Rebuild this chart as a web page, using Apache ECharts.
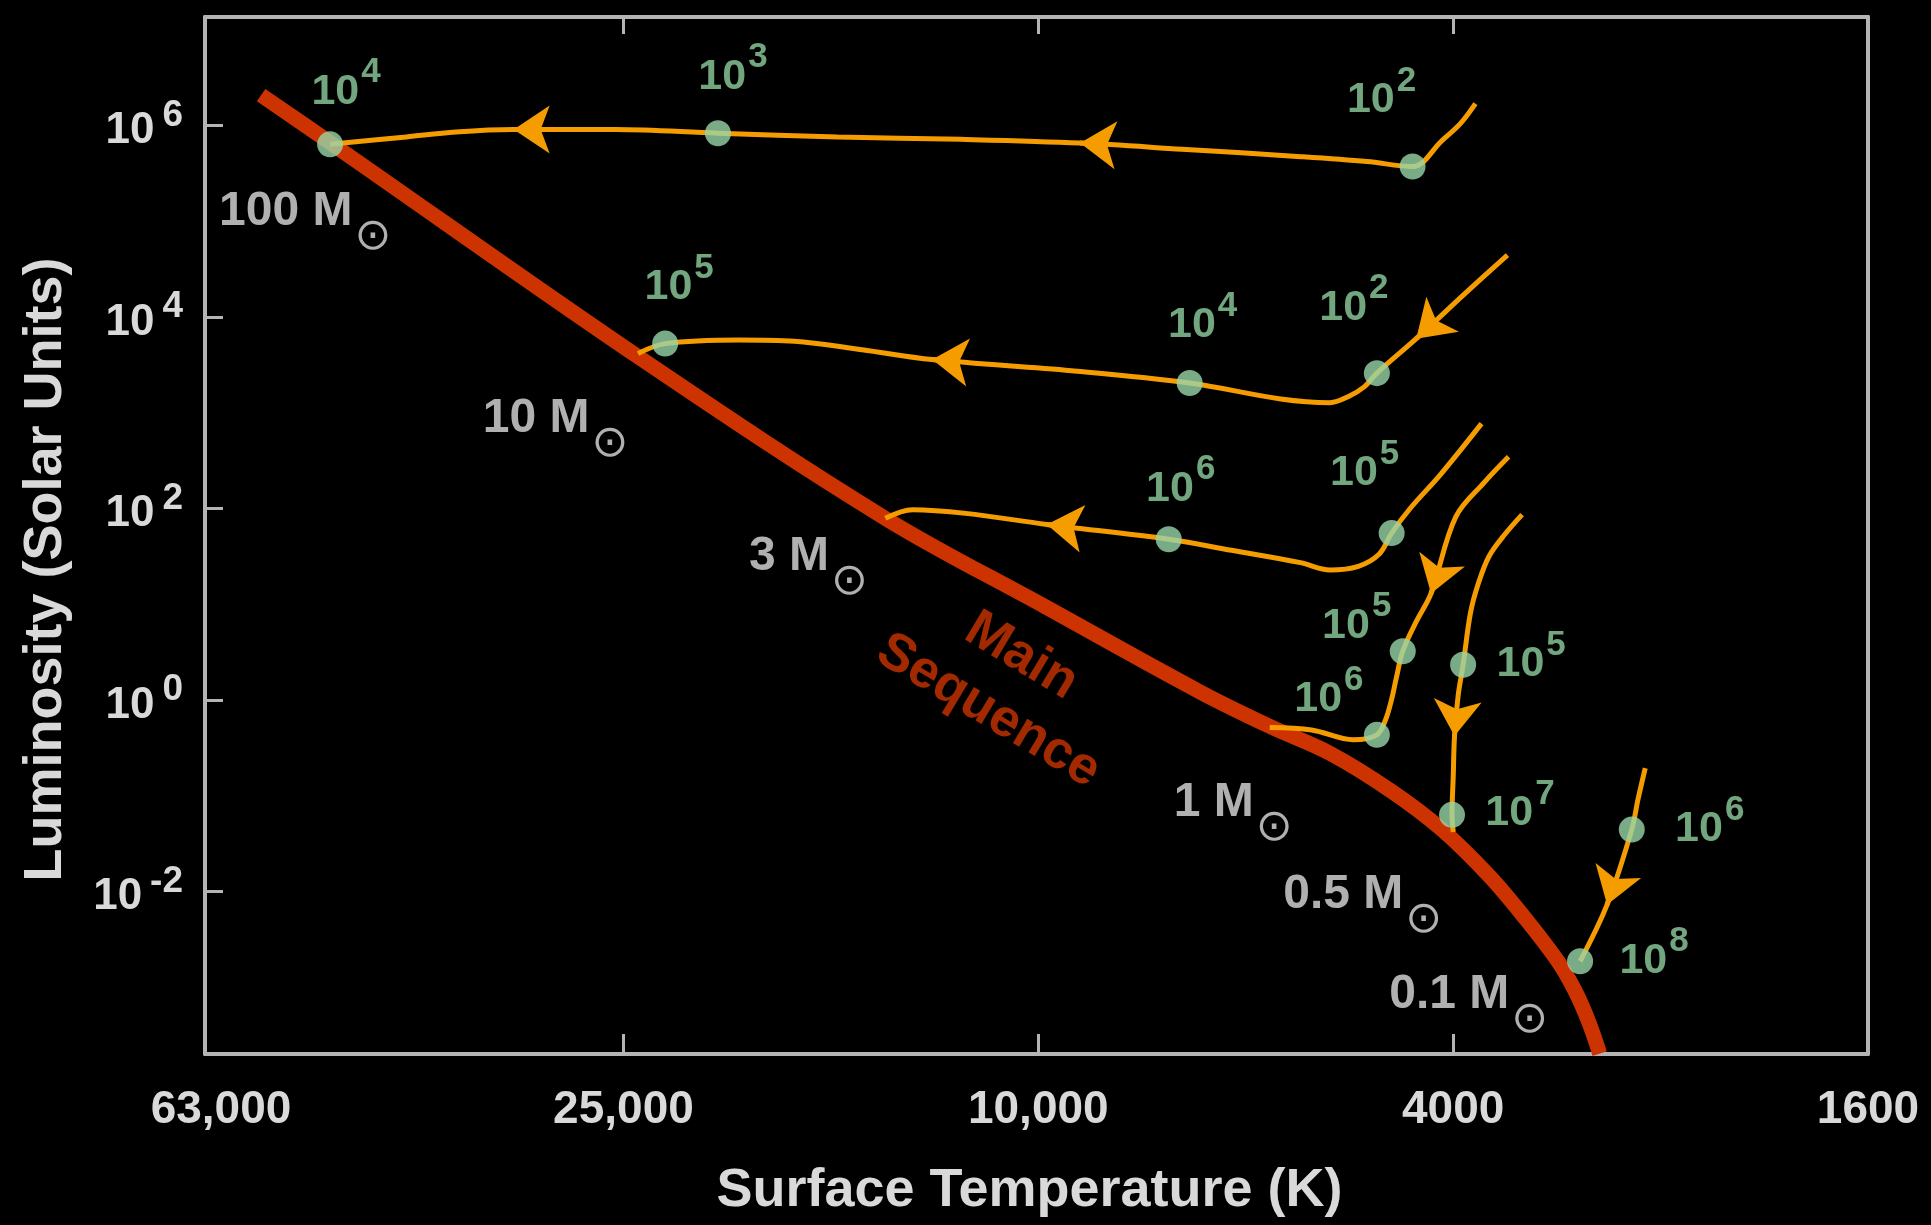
<!DOCTYPE html>
<html><head><meta charset="utf-8">
<script src="https://cdn.jsdelivr.net/npm/echarts@6/dist/echarts.min.js"></script>
<style>html,body{margin:0;padding:0;background:#000;}#c{width:1931px;height:1225px;}</style>
</head><body><div id="c"></div>
<script>
// ---- axis ticks ----
const tempTicks = [63000, 25000, 10000, 4000, 1600];
const tempTickLabels = ['63,000', '25,000', '10,000', '4000', '1600'];
const lumTicks = [0.01, 1, 100, 1e4, 1e6];
const lumTickExponents = ['-2', '0', '2', '4', '6'];

// ---- main sequence ----
const mainSeqTemp = [55660, 47530, 24080, 14020, 9840, 7000, 6000, 5250, 4580, 4100, 3690, 3420, 3174, 3056, 2966, 2894];
const mainSeqLum = [2.06e6, 6.32e5, 3680, 78.6, 9.33, 1.212, 0.529, 0.276, 0.1104, 0.0441, 0.01434, 0.0054, 0.001862, 0.000915, 0.000437, 0.000202];

// ---- pre-main-sequence tracks (evolution order) ----
const track100Temp = [3808, 3935, 4100, 4375, 4840, 5600, 7280, 9119, 11870, 15580, 20290, 25430, 31860, 36210, 40380, 47790];
const track100Lum = [1.68e6, 1.045e6, 6.91e5, 3.71e5, 4.18e5, 4.70e5, 5.62e5, 6.51e5, 7.12e5, 7.55e5, 8.25e5, 9.02e5, 9.02e5, 8.50e5, 7.55e5, 6.32e5];
const track10Temp = [3548, 3893, 4340, 4734, 4865, 5040, 5251, 5853, 7158, 9294, 12640, 14760, 17140, 19370, 22800, 24210];
const track10Lum = [44110, 17630, 5901, 2577, 1862, 1469, 1267, 1385, 2034, 2734, 3569, 4522, 5562, 5729, 5243, 4138];
const track3Temp = [3757, 4110, 4399, 4582, 4709, 4932, 5251, 5604, 6525, 7497, 9814, 11740, 13200, 14020];
const track3Lum = [766.2, 227.8, 99.5, 55.07, 33.31, 24.78, 22.67, 27.08, 36.39, 47.5, 67.75, 88.44, 96.62, 78.55];
const track1Temp = [3539, 3736, 3978, 4200, 4340, 4471, 4533, 4582, 4645, 4734, 4986, 5468, 5998];
const track1Lum = [344.8, 185.2, 80.91, 12.92, 6.545, 3.218, 1.729, 1.015, 0.614, 0.4303, 0.3824, 0.4844, 0.5141];
const track05Temp = [3435, 3568, 3696, 3787, 3850, 3913, 3956, 3988, 3999, 4010, 3999];
const track05Lum = [85.85, 53.47, 31.39, 15.9, 8.051, 2.323, 1.109, 0.4178, 0.1621, 0.06292, 0.04158];
const track01Temp = [2617, 2660, 2696, 2847, 3022];
const track01Lum = [0.1936, 0.08973, 0.04411, 0.007259, 0.001862];

// arrow heads: [track index, point index of the tip]
const arrowAt = [[0, 7], [0, 12], [1, 2], [1, 10], [2, 10], [3, 3], [4, 7], [5, 3]];

// ---- age markers (years) ----
const dotTemp = [47790, 20290, 4375, 22800, 7158, 4734, 7497, 4582, 4471, 4734, 3913, 4010, 2696, 3022];
const dotLum = [6.32e5, 8.25e5, 3.71e5, 5243, 2034, 2577, 47.5, 55.07, 3.218, 0.4303, 2.323, 0.06292, 0.04411, 0.001862];
const dotAgeExp = ['4', '3', '2', '5', '4', '2', '6', '5', '5', '6', '5', '7', '6', '8'];

// ---- mass labels ----
const massText = ['100', '10', '3', '1', '0.5', '0.1'];
const massTemp = [61070, 34110, 18950, 7416, 5821, 4607];
const massLum = [1.24e5, 862.7, 31.39, 0.08457, 0.009197, 0.000837];

const mainSeqLabelPos = [10770, 1.4735];

// ---- styles ----
const FONT = '"Liberation Sans", Arial, Helvetica, sans-serif';
const AXIS = '#b4b4b4';
const TXT = '#d9d9d9';
const ORANGE = '#f59d00';
const RED = '#cc3300';
const GREEN = '#8fcf9f';
const DOT = '#98d6a9';
const dotLabelOffset = [[16,-60],[15,-64],[-31,-74],[14,-64],[13,-65],[-23,-73],[12,-58],[-27,-67],[-46,-33],[-48,-43],[68,-8],[68,-9],[78,-8],[74,-8]];

const zip = (a, b) => a.map((v, i) => [v, b[i]]);
const nearestIdx = (arr, v) => { let best = 0, bd = Infinity; arr.forEach((a, i) => { const d = Math.abs(Math.log(a) - Math.log(v)); if (d < bd) { bd = d; best = i; } }); return best; };
const lerpLog = (a, b, f) => Math.pow(10, Math.log10(a) + f * (Math.log10(b) - Math.log10(a)));

const tracks = [zip(track100Temp, track100Lum), zip(track10Temp, track10Lum), zip(track3Temp, track3Lum), zip(track1Temp, track1Lum), zip(track05Temp, track05Lum), zip(track01Temp, track01Lum)];

const arrowData = arrowAt.map(([t, k]) => {
  const tip = tracks[t][k], prev = tracks[t][k - 1];
  return { coords: [[lerpLog(tip[0], prev[0], 0.06), lerpLog(tip[1], prev[1], 0.06)], tip] };
});

const chart = echarts.init(document.getElementById('c'), null, { renderer: 'canvas' });

const supRich = (base, sup, color, gap, spacer) => ({
  b: { fontSize: base, lineHeight: base, verticalAlign: 'bottom', color: color, fontFamily: FONT, fontWeight: 'bold' },
  s: { fontSize: sup, lineHeight: sup, verticalAlign: 'top', color: color, fontFamily: FONT, fontWeight: 'bold', padding: [0, 0, 0, gap] },
  h: { fontSize: 10, lineHeight: spacer, color: color }
});
const tickTxt = { fontSize: 46, fontWeight: 'bold', fontFamily: FONT, color: TXT };

const option = {
  backgroundColor: '#000',
  animation: false,
  grid: { left: 205, right: 63, top: 17, bottom: 171, containLabel: false, outerBoundsMode: 'none' },
  xAxis: [
    {
      type: 'log', inverse: true, min: 1600, max: 63000, position: 'bottom',
      axisLine: { show: true, onZero: false, lineStyle: { color: AXIS, width: 4 } },
      axisTick: { show: true, inside: true, length: 20, lineStyle: { color: AXIS, width: 3 }, customValues: tempTicks },
      axisLabel: { show: true, customValues: tempTicks, margin: 33, color: TXT, fontSize: 46, fontWeight: 'bold', fontFamily: FONT,
        formatter: v => { const i = nearestIdx(tempTicks, v); return (i === 0 ? '{f|' : '{n|') + tempTickLabels[i] + '}'; },
        rich: { n: tickTxt, f: Object.assign({ padding: [0, 0, 0, 32] }, tickTxt) } },
      splitLine: { show: false }, minorTick: { show: false }, minorSplitLine: { show: false },
      name: 'Surface Temperature (K)', nameLocation: 'middle', nameGap: 110,
      nameTextStyle: { color: TXT, fontSize: 54, fontWeight: 'bold', fontFamily: FONT, padding: [0, 14, 0, 0] }
    },
    {
      type: 'log', inverse: true, min: 1600, max: 63000, position: 'top',
      axisLine: { show: true, onZero: false, lineStyle: { color: AXIS, width: 4 } },
      axisTick: { show: true, inside: true, length: 17, lineStyle: { color: AXIS, width: 3 }, customValues: tempTicks },
      axisLabel: { show: false },
      splitLine: { show: false }, minorTick: { show: false }
    }
  ],
  yAxis: [
    {
      type: 'log', min: 2e-4, max: 1.35e7, position: 'left',
      axisLine: { show: true, onZero: false, lineStyle: { color: AXIS, width: 4 } },
      axisTick: { show: true, inside: true, length: 18, lineStyle: { color: AXIS, width: 3 }, customValues: lumTicks },
      axisLabel: { show: true, customValues: lumTicks, margin: 22,
        formatter: v => '{b|10}{s|' + lumTickExponents[nearestIdx(lumTicks, v)] + '}{h|\u200b}',
        rich: supRich(44, 37, TXT, 8, 56) },
      splitLine: { show: false }, minorTick: { show: false },
      name: 'Luminosity (Solar Units)', nameLocation: 'middle', nameGap: 132,
      nameTextStyle: { color: TXT, fontSize: 54, fontWeight: 'bold', fontFamily: FONT, padding: [0, 68, 0, 0] }
    },
    {
      type: 'log', min: 2e-4, max: 1.35e7, position: 'right',
      axisLine: { show: true, onZero: false, lineStyle: { color: AXIS, width: 4 } },
      axisTick: { show: false }, axisLabel: { show: false }, splitLine: { show: false }, minorTick: { show: false }
    }
  ],
  series: [
    {
      type: 'line', name: 'Main Sequence', data: zip(mainSeqTemp, mainSeqLum), smooth: 0.35, symbol: 'none', z: 2,
      lineStyle: { color: RED, width: 15 }
    },
    ...tracks.map(d => ({
      type: 'line', data: d, smooth: 0.35, symbol: 'none', z: 3,
      lineStyle: { color: ORANGE, width: 5 }
    })),
    {
      type: 'lines', coordinateSystem: 'cartesian2d', z: 4, symbol: ['none', 'arrow'], symbolSize: 36,
      lineStyle: { color: ORANGE, width: 5, opacity: 1, curveness: 0 }, data: arrowData
    },
    {
      type: 'scatter', z: 5, symbol: 'circle', symbolSize: 26, itemStyle: { color: DOT },
      data: dotTemp.map((t, i) => ({ value: [t, dotLum[i]], label: { offset: dotLabelOffset[i] } })),
      label: { show: true, position: 'inside', formatter: p => '{b|10}{s|' + dotAgeExp[p.dataIndex] + '}{h|\u200b}',
        rich: supRich(43, 35, GREEN, 2, 58) }
    },
    {
      type: 'scatter', z: 5, symbol: 'circle', symbolSize: 0,
      data: zip(massTemp, massLum),
      label: { show: true, position: 'right', distance: 0, offset: [0, 12],
        formatter: p => '{b|' + massText[p.dataIndex] + ' M}{s|\u2299}{h|\u200b}',
        rich: {
          b: { fontSize: 48, lineHeight: 48, verticalAlign: 'top', color: '#dcdcdc', fontFamily: FONT, fontWeight: 'bold' },
          s: { fontSize: 44, lineHeight: 44, verticalAlign: 'bottom', color: '#dcdcdc', fontFamily: '"DejaVu Sans", sans-serif', padding: [0, 0, 0, 2] },
          h: { fontSize: 10, lineHeight: 72 }
        } }
    },
    {
      type: 'scatter', z: 5, symbol: 'circle', symbolSize: 0,
      data: [mainSeqLabelPos],
      label: { show: true, position: 'inside', rotate: -31, formatter: 'Main\nSequence', align: 'center',
        color: RED, fontSize: 53, fontWeight: 'bold', fontFamily: FONT, lineHeight: 64 }
    }
  ]
};
chart.setOption(option);
</script></body></html>
